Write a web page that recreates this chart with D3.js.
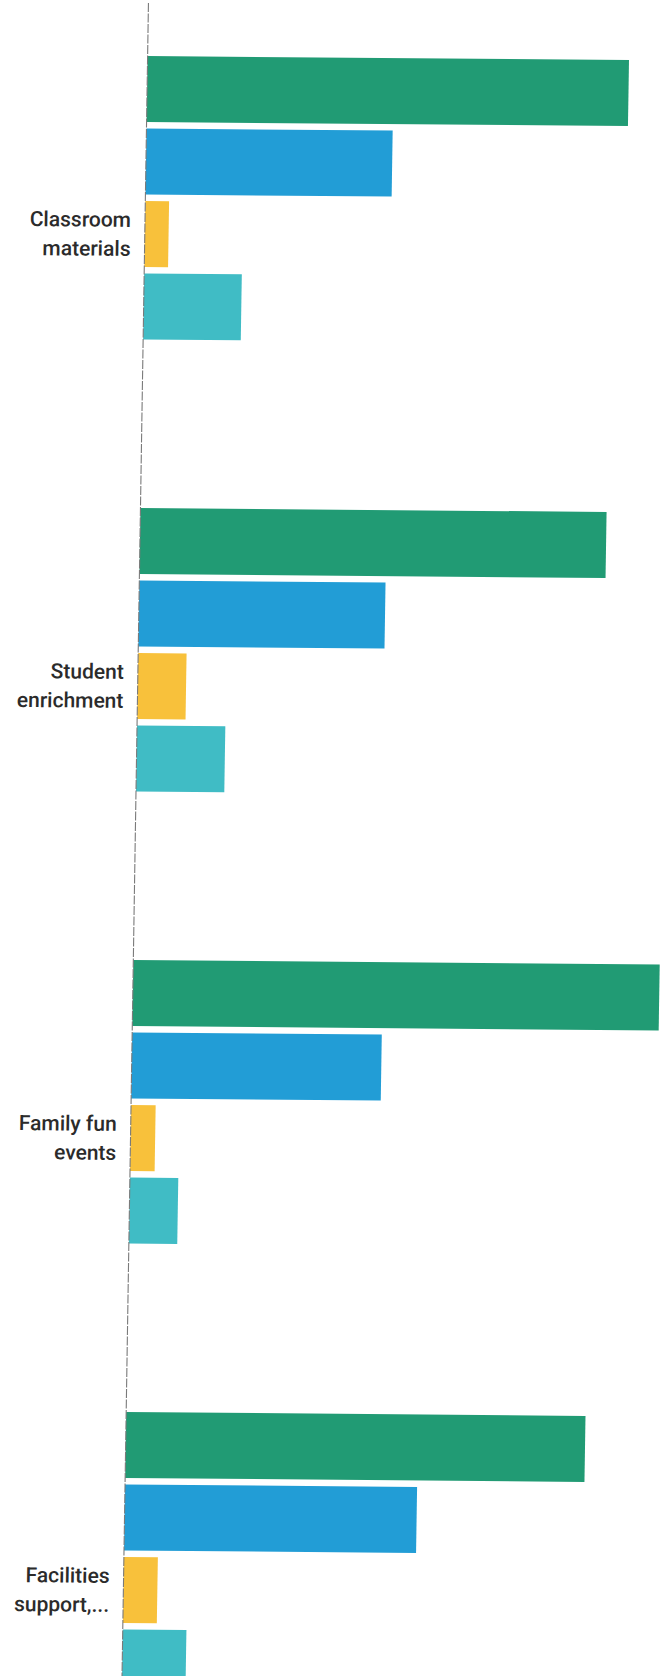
<!DOCTYPE html>
<html><head><meta charset="utf-8">
<script src="https://cdn.jsdelivr.net/npm/d3@7"></script>
<style>html,body{margin:0;padding:0;background:#fff;overflow:hidden}</style>
</head><body>
<svg id="chart" width="660" height="1676"></svg>
<script>
const categories = ["Classroom materials", "Student enrichment", "Family fun events", "Facilities support,..."];
const categoryLines = [["Classroom", "materials"], ["Student", "enrichment"], ["Family fun", "events"], ["Facilities", "support,..."]];
const seriesNames = ["Series A", "Series B", "Series C", "Series D", "Series E"];
const seriesA = [56.7, 54.9, 62.0, 54.1];
const seriesB = [29.0, 29.0, 29.4, 34.4];
const seriesC = [2.8, 5.7, 2.9, 4.0];
const seriesD = [11.5, 10.4, 5.7, 7.5];
const seriesE = [0, 0, 0, 0];
const seriesColors = ["#219b74", "#229dd6", "#f8c13b", "#40bcc5", "#8c8c8c"];

const allSeries = [seriesA, seriesB, seriesC, seriesD, seriesE];
const rows = [];
categories.forEach((c, i) => {
  seriesNames.forEach((s, j) => rows.push({cat: c, series: s, value: allSeries[j][i], color: seriesColors[j]}));
});

const svg = d3.select("#chart");
// scanned page is slightly rotated/skewed
const g = svg.append("g").attr("transform", "matrix(1,0.0085,-0.0158,1,148.5,0)");

const y0 = d3.scaleBand().domain(categories).range([8, 8 + 4 * 452]).paddingInner(0).paddingOuter(0);
const y1 = d3.scaleBand().domain(seriesNames).range([48, 48 + 356]).paddingInner(0.0897).paddingOuter(0);
const x = d3.scaleLinear().domain([0, 100]).range([0, 849]);

g.append("g").selectAll("rect").data(rows).join("rect")
  .attr("x", x(0))
  .attr("y", d => y0(d.cat) + y1(d.series))
  .attr("width", d => x(d.value) - x(0))
  .attr("height", y1.bandwidth())
  .attr("fill", d => d.color);

g.append("line")
  .attr("x1", x(0)).attr("x2", x(0))
  .attr("y1", 3).attr("y2", 1720)
  .attr("stroke", "#7a7a7a").attr("stroke-width", 1.1)
  .attr("stroke-dasharray", "9,1.5");

const axis = d3.axisLeft(y0).tickSize(0).tickPadding(14);
const ag = g.append("g").call(axis);
ag.select(".domain").remove();
ag.selectAll(".tick text")
  .attr("dy", null)
  .attr("font-family", "Roboto, sans-serif")
  .attr("font-size", 21)
  .attr("font-weight", 500)
  .attr("fill", "#2b2b2b")
  .each(function(d) {
    const t = d3.select(this);
    const lines = categoryLines[categories.indexOf(d)];
    t.text(null);
    lines.forEach((ln, k) => {
      t.append("tspan").attr("x", -14).attr("y", -7 + k * 29).text(ln);
    });
  });
</script>
</body></html>
